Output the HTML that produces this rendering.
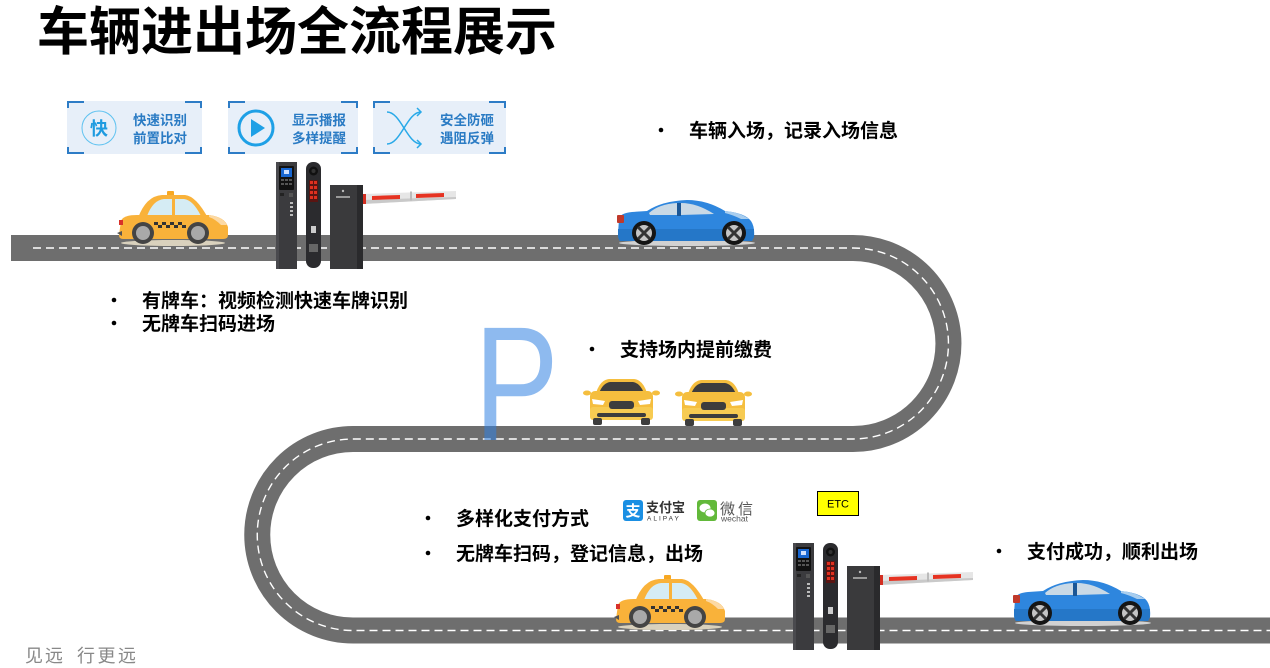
<!DOCTYPE html>
<html><head><meta charset="utf-8"><style>
html,body{margin:0;padding:0;background:#fff;}
body{width:1270px;height:668px;overflow:hidden;}
svg{display:block;}
.cjk{font-family:"Liberation Sans","Noto Sans CJK SC",sans-serif;}
</style></head><body>
<svg width="1270" height="668" viewBox="0 0 1270 668" xmlns="http://www.w3.org/2000/svg">
<defs>
  <g id="taxi">
    <ellipse cx="56" cy="53" rx="52" ry="3" fill="#d9d1bd"/>
    <rect x="50" y="1" width="7" height="6" rx="1" fill="#f7a823"/>
    <path d="M21,28 Q29,6 45,5 L68,5 Q79,6 91,28 Z" fill="#f9b23a"/>
    <path d="M30,26 Q36,10 47,9 L55,9 L55,26 Z" fill="#d5ecf4"/>
    <path d="M58,9 L67,9 Q76,10 84,26 L58,26 Z" fill="#d5ecf4"/>
    <path d="M4,31 Q6,25 20,25 L92,25 Q108,27 111,37 L111,45 Q111,49 106,49 L6,49 Q2,49 2,45 Z" fill="#f9b23a"/>
    <path d="M92,25 Q106,27 110,35 L104,35 Q98,29 92,27 Z" fill="#fcd9a4"/>
    <rect x="2" y="30" width="4" height="5" fill="#d8312a"/>
    <path d="M0,43 L5,41 L5,46 Z" fill="#555"/>
    <g fill="#333">
      <rect x="37" y="32" width="4" height="3"/><rect x="45" y="32" width="4" height="3"/><rect x="53" y="32" width="4" height="3"/><rect x="61" y="32" width="4" height="3"/>
      <rect x="41" y="35" width="4" height="3"/><rect x="49" y="35" width="4" height="3"/><rect x="57" y="35" width="4" height="3"/><rect x="65" y="35" width="4" height="3"/>
    </g>
    <circle cx="26" cy="43" r="11" fill="#444"/><circle cx="26" cy="43" r="7" fill="#a9a9a9"/>
    <circle cx="81" cy="43" r="11" fill="#444"/><circle cx="81" cy="43" r="7" fill="#a9a9a9"/>
  </g>
  <g id="bluecar">
    <ellipse cx="70" cy="44" rx="68" ry="3" fill="#d2d2d2"/>
    <path d="M2,20 Q3,14 15,13 L30,12 Q45,2 70,1 Q90,1 108,12 Q128,14 134,22 Q138,28 137,38 L135,42 L3,42 Q1,40 1,35 Z" fill="#2e86de"/>
    <path d="M1,30 L137,30 L137,38 L135,42 L3,42 Q1,40 1,35 Z" fill="#2577c8"/>
    <path d="M32,14 Q42,5 60,4 L60,16 L33,16 Z" fill="#c9d9e6"/>
    <path d="M64,4 Q80,4 97,15 L64,16 Z" fill="#c9d9e6"/>
    <path d="M108,12 Q122,13 132,20 L124,20 Q116,16 108,14 Z" fill="#a8cdee"/>
    <rect x="60" y="4" width="4" height="13" fill="#1a5696"/>
    <rect x="0" y="16" width="7" height="8" rx="1" fill="#c0392b"/>
    <circle cx="27" cy="34" r="12" fill="#151515"/><circle cx="27" cy="34" r="8" fill="#c4c4c4"/>
    <path d="M21,28 L33,40 M33,28 L21,40" stroke="#333" stroke-width="3"/>
    <circle cx="117" cy="34" r="12" fill="#151515"/><circle cx="117" cy="34" r="8" fill="#c4c4c4"/>
    <path d="M111,28 L123,40 M123,28 L111,40" stroke="#333" stroke-width="3"/>
  </g>
  <g id="frontcar">
    <ellipse cx="4" cy="15" rx="4" ry="2.5" fill="#f5be3e"/>
    <ellipse cx="73" cy="15" rx="4" ry="2.5" fill="#f5be3e"/>
    <path d="M13,15 Q17,2 26,1 L51,1 Q60,2 64,15 Z" fill="#f5be3e"/>
    <path d="M16,15 Q20,5 27,4 L50,4 Q57,5 61,15 Z" fill="#3d3d3d"/>
    <rect x="7" y="13" width="63" height="29" rx="5" fill="#f5be3e"/>
    <rect x="7" y="29" width="63" height="13" rx="3" fill="#f7cb52"/>
    <path d="M9,21 L22,23 L20,27 L10,26 Z" fill="#fff"/>
    <path d="M68,21 L55,23 L57,27 L67,26 Z" fill="#fff"/>
    <rect x="26" y="23" width="25" height="8" rx="3" fill="#3d3d3d"/>
    <rect x="14" y="35" width="49" height="4" rx="2" fill="#3d3d3d"/>
    <rect x="10" y="40" width="9" height="7" rx="2" fill="#3d3d3d"/>
    <rect x="58" y="40" width="9" height="7" rx="2" fill="#3d3d3d"/>
  </g>
  <g id="gate">
    <rect x="0" y="0" width="21" height="107" fill="#3b3b3e"/>
    <rect x="0" y="0" width="3" height="107" fill="#4a4a4e"/>
    <rect x="3" y="4" width="15" height="24" rx="1" fill="#111"/>
    <rect x="5" y="6" width="11" height="9" fill="#1866d0"/>
    <rect x="8" y="8" width="5" height="4" fill="#cfe0ff"/>
    <g fill="#555"><rect x="5" y="17" width="3" height="2"/><rect x="9" y="17" width="3" height="2"/><rect x="13" y="17" width="3" height="2"/><rect x="5" y="21" width="3" height="2"/><rect x="9" y="21" width="3" height="2"/><rect x="13" y="21" width="3" height="2"/></g>
    <rect x="4" y="31" width="4" height="3" fill="#222"/><rect x="13" y="31" width="4" height="4" fill="#555"/>
    <g fill="#bbb"><rect x="14" y="40" width="3" height="2"/><rect x="14" y="44" width="3" height="2"/><rect x="14" y="48" width="3" height="2"/><rect x="14" y="52" width="3" height="2"/></g>
    <rect x="30" y="0" width="15" height="106" rx="7" fill="#2b2b2e"/>
    <circle cx="37.5" cy="9" r="4.5" fill="#111"/><circle cx="37.5" cy="9" r="2" fill="#333"/>
    <rect x="33" y="18" width="9" height="22" fill="#5a1512"/>
    <g fill="#e0301f"><rect x="34" y="19" width="3" height="3"/><rect x="38" y="19" width="3" height="3"/><rect x="34" y="24" width="3" height="3"/><rect x="38" y="24" width="3" height="3"/><rect x="34" y="29" width="3" height="3"/><rect x="38" y="29" width="3" height="3"/><rect x="34" y="34" width="3" height="3"/><rect x="38" y="34" width="3" height="3"/></g>
    <rect x="35" y="64" width="5" height="7" fill="#ccc"/>
    <rect x="33" y="82" width="9" height="8" fill="#666"/>
    <rect x="54" y="23" width="33" height="84" fill="#3a3a3c"/>
    <rect x="81" y="23" width="6" height="84" fill="#2a2a2c"/>
    <rect x="60" y="34" width="14" height="2" fill="#999"/>
    <circle cx="67" cy="29" r="1.2" fill="#bbb"/>
    <polygon points="87,32 180,29 180,37 87,42" fill="#e6e6e6"/>
    <polygon points="87,38 180,35 180,37 87,42" fill="#c9c9c9"/>
    <polygon points="96,34 124,33 124,37 96,38" fill="#e63322"/>
    <polygon points="140,32 168,31 168,35 140,36" fill="#e63322"/>
    <rect x="134" y="29.5" width="2" height="9" fill="#bbb"/>
    <rect x="87" y="32" width="3" height="10" fill="#d32f22"/>
  </g>
</defs>

<!-- Title -->
<text x="37" y="50" class="cjk" font-size="52" font-weight="700" fill="#000">车辆进出场全流程展示</text>

<!-- Feature boxes -->
<g>
  <rect x="67" y="101" width="135" height="53" fill="#e7eff9"/>
  <rect x="228" y="101" width="130" height="53" fill="#e7eff9"/>
  <rect x="373" y="101" width="133" height="53" fill="#e7eff9"/>
  <g stroke="#2d7cc6" stroke-width="2" fill="none">
    <path d="M68,108 V102 H84 M185,102 H201 V108 M68,147 V153 H84 M185,153 H201 V147"/>
    <path d="M229,108 V102 H245 M341,102 H357 V108 M229,147 V153 H245 M341,153 H357 V147"/>
    <path d="M374,108 V102 H390 M489,102 H505 V108 M374,147 V153 H390 M489,153 H505 V147"/>
  </g>
  <circle cx="99" cy="128" r="17" fill="none" stroke="#5ec2f0" stroke-width="1"/>
  <text x="99" y="135" text-anchor="middle" class="cjk" font-size="18" font-weight="700" fill="#1e9be0">快</text>
  <text x="133" y="125" class="cjk" font-size="13.5" font-weight="600" fill="#2a7bc4">快速识别</text>
  <text x="133" y="143" class="cjk" font-size="13.5" font-weight="600" fill="#2a7bc4">前置比对</text>

  <circle cx="256" cy="128" r="17" fill="none" stroke="#1ea0e6" stroke-width="3"/>
  <polygon points="251,119 251,137 265,128" fill="#1ea0e6"/>
  <text x="292" y="125" class="cjk" font-size="13.5" font-weight="600" fill="#2a7bc4">显示播报</text>
  <text x="292" y="143" class="cjk" font-size="13.5" font-weight="600" fill="#2a7bc4">多样提醒</text>

  <g stroke="#29a9e8" stroke-width="1.5" fill="none">
    <path d="M387,112 C401,112 407,144 421,144"/>
    <path d="M387,144 C401,144 407,112 421,112"/>
    <path d="M417,108 L421,112 L417,116"/>
    <path d="M417,140 L421,144 L417,148"/>
  </g>
  <text x="440" y="125" class="cjk" font-size="13.5" font-weight="600" fill="#2a7bc4">安全防砸</text>
  <text x="440" y="143" class="cjk" font-size="13.5" font-weight="600" fill="#2a7bc4">遇阻反弹</text>
</g>

<!-- Road -->
<path d="M11,248 H853 A95.5,95.5 0 0 1 853,439 H353 A95.75,95.75 0 0 0 353,630.5 H1270" fill="none" stroke="#6e6e6e" stroke-width="26"/>
<path d="M33,248 H853 A95.5,95.5 0 0 1 853,439 H353 A95.75,95.75 0 0 0 353,630.5 H1270" fill="none" stroke="#ffffff" stroke-width="1.4" stroke-dasharray="8 5"/>

<!-- P -->
<text transform="translate(474,440) scale(0.78,1)" x="0" y="0" font-family="Liberation Sans, sans-serif" font-size="163" fill="rgb(50,130,225)" fill-opacity="0.55">P</text>

<!-- Vehicles -->
<use href="#taxi" x="117" y="190"/>
<use href="#taxi" x="614" y="574"/>
<use href="#bluecar" x="617" y="199"/>
<use href="#bluecar" x="1013" y="579"/>
<use href="#frontcar" x="583" y="378"/>
<use href="#frontcar" x="675" y="379"/>

<!-- Gates -->
<use href="#gate" x="276" y="162"/>
<use href="#gate" x="793" y="543"/>

<!-- Bullet texts -->
<g fill="#000">
  <circle cx="661" cy="130" r="2.3"/>
  <circle cx="114" cy="300" r="2.3"/>
  <circle cx="114" cy="323" r="2.3"/>
  <circle cx="592" cy="349" r="2.3"/>
  <circle cx="428" cy="518" r="2.3"/>
  <circle cx="428" cy="553" r="2.3"/>
  <circle cx="999" cy="551" r="2.3"/>
</g>
<g class="cjk" font-size="19" font-weight="700" fill="#000">
  <text x="689" y="137">车辆入场，记录入场信息</text>
  <text x="142" y="307">有牌车：视频检测快速车牌识别</text>
  <text x="142" y="330">无牌车扫码进场</text>
  <text x="620" y="356">支持场内提前缴费</text>
  <text x="456" y="525">多样化支付方式</text>
  <text x="456" y="560">无牌车扫码，登记信息，出场</text>
  <text x="1027" y="558">支付成功，顺利出场</text>
</g>

<!-- Payment logos -->
<rect x="623" y="500" width="20" height="21" rx="3" fill="#1a8fe3"/>
<text x="633" y="516" text-anchor="middle" class="cjk" font-size="15" font-weight="700" fill="#fff">支</text>
<text x="646" y="512" class="cjk" font-size="13" font-weight="700" fill="#333">支付宝</text>
<text x="647" y="520.5" font-family="Liberation Sans, sans-serif" font-size="6.5" letter-spacing="2" fill="#333">ALIPAY</text>
<rect x="697" y="500" width="20" height="21" rx="3" fill="#62b93a"/>
<ellipse cx="705" cy="508" rx="5.5" ry="4.5" fill="#fff"/>
<ellipse cx="710" cy="513" rx="5" ry="4" fill="#fff" stroke="#62b93a" stroke-width="0.8"/>
<text x="720" y="514" class="cjk" font-size="15" fill="#555" letter-spacing="3">微信</text>
<text x="721" y="521.5" font-family="Liberation Sans, sans-serif" font-size="8.5" fill="#555">wechat</text>

<!-- ETC -->
<rect x="817.5" y="491.5" width="41" height="24" fill="#ffff00" stroke="#000" stroke-width="1"/>
<text x="838" y="507.5" text-anchor="middle" font-family="Liberation Sans, sans-serif" font-size="11" fill="#000">ETC</text>

<!-- Footer -->
<text x="25" y="662" class="cjk" font-size="18" fill="#888" letter-spacing="2">见远</text>
<text x="77" y="662" class="cjk" font-size="18" fill="#888" letter-spacing="2.5">行更远</text>
</svg>
</body></html>
